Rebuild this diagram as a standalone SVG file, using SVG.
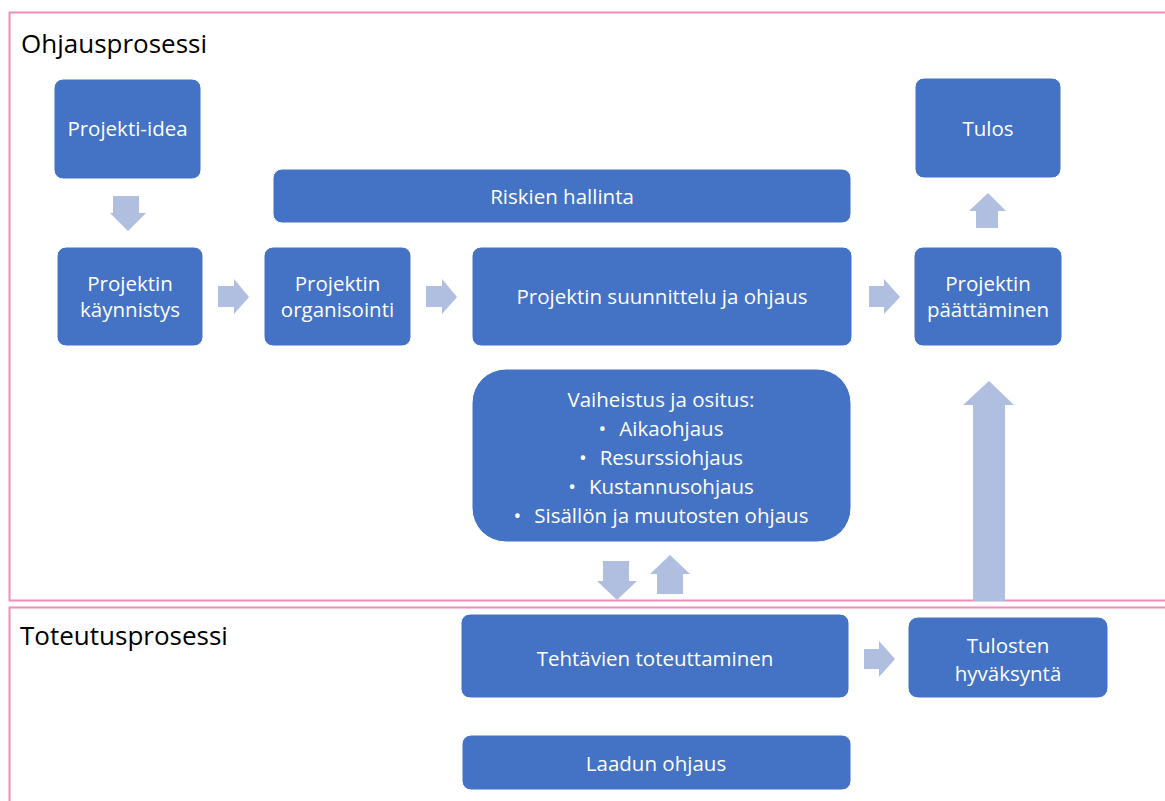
<svg xmlns="http://www.w3.org/2000/svg" width="1165" height="801" viewBox="0 0 1165 801">
  <style>
    .frame { fill: none; stroke: #F28DBA; stroke-width: 2; }
    .node { fill: #4472C4; stroke: #FFFFFF; stroke-width: 1; }
    .label { fill: #FFFFFF; font-family: "Open Sans", "Liberation Sans", sans-serif; font-size: 20.5px; text-anchor: middle; dominant-baseline: central; }
    .title { fill: #000000; font-family: "Open Sans", "Liberation Sans", sans-serif; font-size: 26px; }
    .arrow { fill: #B0BEE0; }
  </style>

  <rect width="1165" height="801" fill="#FFFFFF"/>

  <!-- process frames -->
  <g id="frames">
    <rect class="frame" x="9.5" y="12.5" width="1170" height="588"/>
    <rect class="frame" x="9.5" y="607.5" width="1170" height="210"/>
    <text class="title" x="21" y="53">Ohjausprosessi</text>
    <text class="title" x="20" y="645">Toteutusprosessi</text>
  </g>

  <!-- block arrows between steps -->
  <g id="connectors">
    <polygon class="arrow" points="113,196 139,196 139,213 146,213 128,231 110,213 113,213"/>
    <polygon class="arrow" points="218,286 234,286 234,279 249,297 234,314 234,307 218,307"/>
    <polygon class="arrow" points="426,286 442,286 442,279 457,297 442,314 442,307 426,307"/>
    <polygon class="arrow" points="869,286 884,286 884,279 900,297 884,314 884,307 869,307"/>
    <polygon class="arrow" points="976,228 998,228 998,211 1006,211 988,193 969,211 976,211"/>
    <polygon class="arrow" points="973,601 1005,601 1005,405 1014,405 989,381 963,405 973,405"/>
    <polygon class="arrow" points="603,561 629,561 629,581 637,581 617,600 597,581 603,581"/>
    <polygon class="arrow" points="657,594 683,594 683,574 690,574 670,555 650,574 657,574"/>
    <polygon class="arrow" points="864,649 879,649 879,641 895,659 879,677 879,669 864,669"/>
  </g>

  <g id="projekti-idea">
    <rect class="node" x="54" y="79" width="147" height="100" rx="9"/>
    <text class="label" x="127.5" y="128">Projekti-idea</text>
  </g>

  <g id="tulos">
    <rect class="node" x="915" y="78" width="146" height="100" rx="9"/>
    <text class="label" x="988" y="128">Tulos</text>
  </g>

  <g id="riskien-hallinta">
    <rect class="node" x="273" y="169" width="578" height="54" rx="9"/>
    <text class="label" x="562" y="196">Riskien hallinta</text>
  </g>

  <g id="kaynnistys">
    <rect class="node" x="57" y="247" width="146" height="99" rx="9"/>
    <text class="label" x="130" y="283">Projektin</text>
    <text class="label" x="130" y="309">käynnistys</text>
  </g>

  <g id="organisointi">
    <rect class="node" x="264" y="247" width="147" height="99" rx="9"/>
    <text class="label" x="337.5" y="283">Projektin</text>
    <text class="label" x="337.5" y="309">organisointi</text>
  </g>

  <g id="suunnittelu">
    <rect class="node" x="472" y="247" width="380" height="99" rx="9"/>
    <text class="label" x="662" y="296">Projektin suunnittelu ja ohjaus</text>
  </g>

  <g id="paattaminen">
    <rect class="node" x="914" y="247" width="148" height="99" rx="9"/>
    <text class="label" x="988" y="283">Projektin</text>
    <text class="label" x="988" y="309">päättäminen</text>
  </g>

  <g id="vaiheistus">
    <rect class="node" x="472" y="369" width="379" height="173" rx="34"/>
    <text class="label" x="661" y="399">Vaiheistus ja ositus:</text>
    <text class="label" x="661" y="428">•<tspan dx="13">Aikaohjaus</tspan></text>
    <text class="label" x="661" y="457">•<tspan dx="13">Resurssiohjaus</tspan></text>
    <text class="label" x="661" y="486">•<tspan dx="13">Kustannusohjaus</tspan></text>
    <text class="label" x="661" y="515">•<tspan dx="13">Sisällön ja muutosten ohjaus</tspan></text>
  </g>

  <g id="tehtavien-toteuttaminen">
    <rect class="node" x="461" y="614" width="388" height="84" rx="9"/>
    <text class="label" x="655" y="658">Tehtävien toteuttaminen</text>
  </g>

  <g id="tulosten-hyvaksynta">
    <rect class="node" x="908" y="617" width="200" height="81" rx="10"/>
    <text class="label" x="1008" y="645">Tulosten</text>
    <text class="label" x="1008" y="673">hyväksyntä</text>
  </g>

  <g id="laadun-ohjaus">
    <rect class="node" x="462" y="735" width="389" height="55" rx="9"/>
    <text class="label" x="656" y="763">Laadun ohjaus</text>
  </g>
</svg>
